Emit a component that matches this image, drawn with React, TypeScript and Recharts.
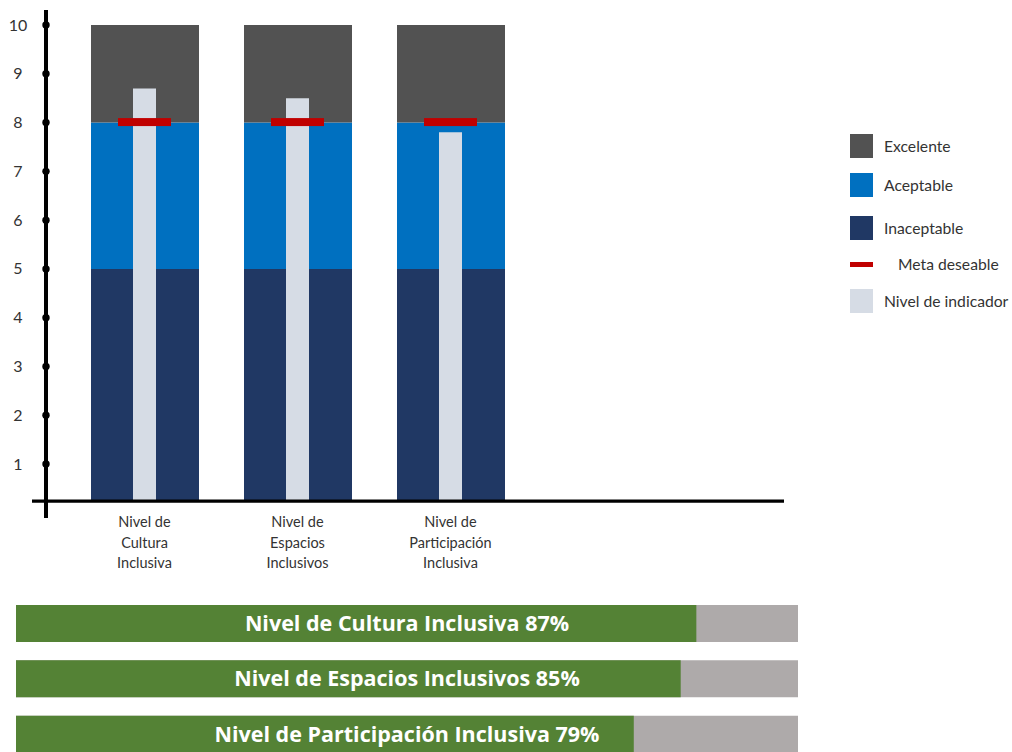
import React from 'react';
import { ComposedChart, BarChart, Bar, XAxis, YAxis, ReferenceLine, LabelList } from 'recharts';

// ---------- data ----------
const categories = [
  'Nivel de Cultura Inclusiva',
  'Nivel de Espacios Inclusivos',
  'Nivel de Participación Inclusiva',
];
const inaceptableTop = [5, 5, 5];
const aceptableTop = [8, 8, 8];
const excelenteTop = [10, 10, 10];
const indicatorLevel = [8.7, 8.5, 7.8];
const metaDeseable = [8, 8, 8];
const percentages = [87, 85, 79];
const yTicks = [1, 2, 3, 4, 5, 6, 7, 8, 9, 10];
const legendLabels = ['Excelente', 'Aceptable', 'Inaceptable', 'Meta deseable', 'Nivel de indicador'];

const AXIS_BASE = 0.24; // value where the horizontal axis crosses
const Y_DOMAIN: [number, number] = [-0.107, 10.308];
const FULL = 100;

// ---------- styles ----------
const COLORS = {
  excelente: '#525252',
  aceptable: '#0070C0',
  inaceptable: '#203864',
  meta: '#C00000',
  indicador: '#D6DCE5',
  green: '#548235',
  gray: '#AEAAAA',
  text: '#333333',
};
const FONT = 'Lato, Carlito, Calibri, sans-serif';

const mainData = categories.map((name, i) => ({
  name,
  inaceptable: [AXIS_BASE, inaceptableTop[i]],
  aceptable: [inaceptableTop[i], aceptableTop[i]],
  excelente: [aceptableTop[i], excelenteTop[i]],
  indicador: [AXIS_BASE, indicatorLevel[i]],
  meta: metaDeseable[i],
}));

const barData = categories.map((name, i) => ({
  name,
  pct: percentages[i],
  full: FULL,
  label: `${name} ${percentages[i]}%`,
}));

const XTick = (props: any) => {
  const { x, y, payload } = props;
  const words = String(payload.value).split(' ');
  const lines = [words.slice(0, 2).join(' '), ...words.slice(2)];
  return (
    <text x={x} y={y} textAnchor="middle" fill={COLORS.text} fontFamily={FONT} fontSize={14.5}>
      {lines.map((l, i) => (
        <tspan key={i} x={x} dy={i === 0 ? 9 : 20.7}>
          {l}
        </tspan>
      ))}
    </text>
  );
};

const YTick = (props: any) => {
  const { x, y, payload } = props;
  return (
    <g>
      <circle cx={x} cy={y} r={3.7} fill="#000" />
      <text x={x - 28} y={y} dy={5.5} textAnchor="middle" fill={COLORS.text} fontFamily={FONT} fontSize={16}>
        {payload.value}
      </text>
    </g>
  );
};

const MetaShape = (props: any) => (
  <rect x={props.x} y={props.y - 4.5} width={props.width} height={8} fill={COLORS.meta} />
);

const AxisLineShape = (props: any) => (
  <line x1={props.x1 - 14} y1={props.y1} x2={props.x2} y2={props.y2} stroke="#000" strokeWidth={3.2} />
);

const xPad = { left: 22, right: 257 };

const legendColors = [COLORS.excelente, COLORS.aceptable, COLORS.inaceptable, COLORS.meta, COLORS.indicador];
const legendTops = [146, 185, 228, 264, 301];

export default function App() {
  return (
    <div style={{ position: 'absolute', left: 0, top: 0, width: 1012, height: 752, overflow: 'hidden', background: '#fff' }}>
      <div style={{ position: 'absolute', left: 0, top: 0 }}>
        <ComposedChart width={1012} height={590} data={mainData} margin={{ top: 10, right: 228, bottom: 0, left: 0 }}>
          <YAxis
            type="number"
            domain={Y_DOMAIN}
            allowDataOverflow
            ticks={yTicks}
            width={46}
            tickLine={false}
            tickSize={0}
            tickMargin={0}
            axisLine={{ stroke: '#000', strokeWidth: 4 }}
            tick={<YTick />}
            interval={0}
          />
          <XAxis xAxisId="main" dataKey="name" type="category" padding={xPad} height={72} axisLine={false} tickLine={false} tickSize={0} tickMargin={0} tick={<XTick />} interval={0} />
          <XAxis xAxisId="acep" orientation="top" dataKey="name" type="category" padding={xPad} hide />
          <XAxis xAxisId="exc" orientation="top" dataKey="name" type="category" padding={xPad} hide />
          <XAxis xAxisId="ind" orientation="top" dataKey="name" type="category" padding={xPad} hide />
          <XAxis xAxisId="meta" orientation="top" dataKey="name" type="category" padding={xPad} hide />
          <Bar xAxisId="main" dataKey="inaceptable" name="Inaceptable" barSize={108} fill={COLORS.inaceptable} isAnimationActive={false} />
          <Bar xAxisId="acep" dataKey="aceptable" name="Aceptable" barSize={108} fill={COLORS.aceptable} isAnimationActive={false} />
          <Bar xAxisId="exc" dataKey="excelente" name="Excelente" barSize={108} fill={COLORS.excelente} isAnimationActive={false} />
          <Bar xAxisId="ind" dataKey="indicador" name="Nivel de indicador" barSize={23} fill={COLORS.indicador} isAnimationActive={false} />
          <Bar xAxisId="meta" dataKey="meta" name="Meta deseable" barSize={53} fill={COLORS.meta} shape={<MetaShape />} isAnimationActive={false} />
          <ReferenceLine xAxisId="main" y={AXIS_BASE} stroke="#000" strokeWidth={3.2} shape={<AxisLineShape />} />
        </ComposedChart>
      </div>

      {legendLabels.map((label, i) => {
        const isMeta = label === 'Meta deseable';
        return (
          <div key={label}>
            <div
              style={{
                position: 'absolute',
                left: 850,
                top: isMeta ? legendTops[i] - 2.5 : legendTops[i] - 12,
                width: 23,
                height: isMeta ? 5 : 24,
                background: legendColors[i],
              }}
            />
            <div
              style={{
                position: 'absolute',
                left: isMeta ? 898 : 884,
                top: legendTops[i] - 10,
                height: 20,
                lineHeight: '20px',
                fontFamily: FONT,
                fontSize: 15.7,
                color: COLORS.text,
                whiteSpace: 'nowrap',
              }}
            >
              {label}
            </div>
          </div>
        );
      })}

      <div style={{ position: 'absolute', left: 0, top: 590 }}>
        <BarChart layout="vertical" width={800} height={172} data={barData} margin={{ top: 6, right: 2, bottom: 0, left: 16 }}>
          <XAxis type="number" domain={[0, FULL]} hide />
          <YAxis yAxisId="main" type="category" dataKey="name" hide />
          <YAxis yAxisId="lbl" type="category" dataKey="name" hide />
          <Bar yAxisId="main" dataKey="pct" barSize={37} fill={COLORS.green} background={{ fill: COLORS.gray }} isAnimationActive={false} />
          <Bar yAxisId="lbl" dataKey="full" barSize={37} fill="transparent" isAnimationActive={false}>
            <LabelList dataKey="label" position="center" fill="#fff" fontFamily="'Open Sans', sans-serif" fontWeight={700} fontSize={21.5} />
          </Bar>
        </BarChart>
      </div>
    </div>
  );
}
